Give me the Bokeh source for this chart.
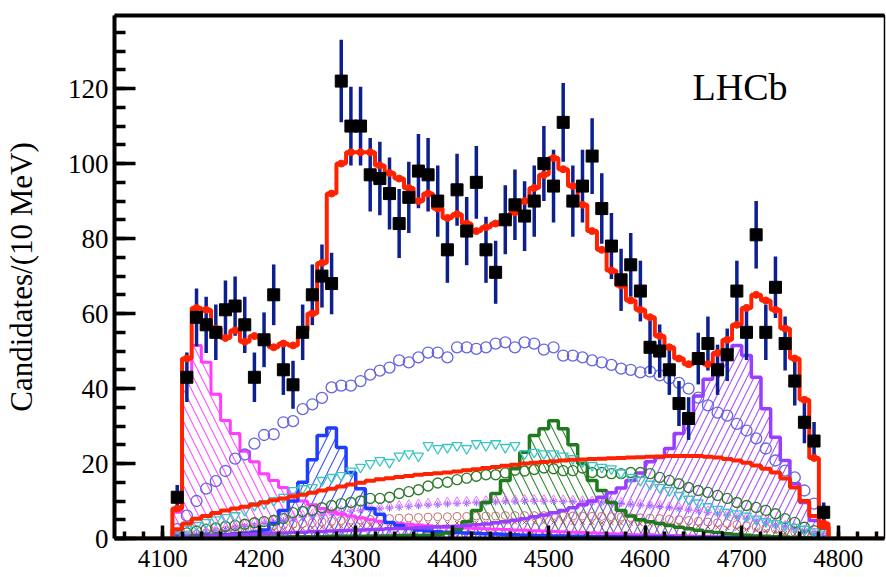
import numpy as np
from bokeh.plotting import figure
from bokeh.models import LinearAxis, FixedTicker, Range1d, Label, SingleIntervalTicker
from bokeh.embed import file_html
from bokeh.resources import INLINE

# ---------------- data (10 MeV bins, centres 4115 ... 4785) ----------------
bin_lo, bin_w, n_bins = 4110, 10, 68
mass = [4115 + 10 * i for i in range(n_bins)]

data = [11, 43, 59, 57, 55, 61, 62, 57, 43, 53,
        65, 45, 41, 55, 65, 70, 68, 122, 110, 110,
        97, 96, 92, 84, 91, 98, 97, 90, 77, 93,
        82, 95, 77, 71, 85, 89, 86, 90, 100, 94,
        111, 90, 94, 102, 88, 78, 69, 73, 66, 51,
        50, 45, 36, 32, 48, 52, 45, 49, 66, 55,
        81, 55, 67, 52, 42, 31, 26, 7]
data_err = [3.3, 6.6, 7.7, 7.5, 7.4, 7.8, 7.9, 7.5, 6.6, 7.3,
            8.1, 6.7, 6.4, 7.4, 8.1, 8.4, 8.2, 11.0, 10.5, 10.5,
            9.8, 9.8, 9.6, 9.2, 9.5, 9.9, 9.8, 9.5, 8.8, 9.6,
            9.1, 9.7, 8.8, 8.4, 9.2, 9.4, 9.3, 9.5, 10.0, 9.7,
            10.5, 9.5, 9.7, 10.1, 9.4, 8.8, 8.3, 8.5, 8.1, 7.1,
            7.1, 6.7, 6.0, 5.7, 6.9, 7.2, 6.7, 7.0, 8.1, 7.4,
            9.0, 7.4, 8.2, 7.2, 6.5, 5.6, 5.1, 2.6]

total_fit = [8, 48, 61.5, 61, 56, 53.5, 55.5, 52.5, 54, 53,
             51, 52, 51.5, 55.5, 60, 73.5, 92, 100, 103, 103,
             103, 99.5, 97.5, 96, 93.5, 90, 92, 88, 85.5, 86.5,
             84, 82, 83, 84, 85, 87, 90, 93.5, 97, 101.5,
             98.5, 94, 89, 82, 77, 71.5, 67.5, 63.5, 61, 59,
             54, 51, 48, 46.5, 47.5, 46.5, 49.5, 53, 57, 61.5,
             65, 63.5, 61, 56, 48, 37, 21.5, 4]

magenta_hist = [7, 43, 51.5, 47, 38.5, 31.5, 28, 23.3, 20.5, 17.3,
                15.5, 13.6, 11.8, 10, 9, 8, 7.2, 6.5, 6, 5.5,
                5.0, 4.6, 4.3, 4.0, 3.8, 3.6, 3.4, 3.2, 3.0, 2.9,
                2.8, 2.7, 2.6, 2.5, 2.4, 2.3, 2.2, 2.1, 2.0, 1.9,
                1.8, 1.7, 1.6, 1.5, 1.4, 1.3, 1.2, 1.1, 1.0, 1.0,
                0.9, 0.8, 0.8, 0.7, 0.6, 0.6, 0.5, 0.5, 0.4, 0.4,
                0.3, 0.3, 0.2, 0.2, 0.1, 0.1, 0.1, 0.1]

blue_hist = [0.5, 0.6, 0.7, 0.8, 0.9, 1.0, 1.2, 1.4, 1.7, 2.3,
             4.0, 7.5, 10, 15, 21, 27.5, 29.5, 24.3, 17.6, 13.3,
             8, 6.5, 4.3, 3.5, 2.7, 2.3, 2.0, 1.8, 1.7, 1.6,
             1.5, 1.4, 1.3, 1.2, 1.1, 1.0, 0.9, 0.8, 0.8, 0.7,
             0.7, 0.6, 0.6, 0.5, 0.5, 0.5, 0.5, 0.4, 0.4, 0.4,
             0.4, 0.4, 0.3, 0.3, 0.3, 0.3, 0.3, 0.3, 0.3, 0.2,
             0.2, 0.2, 0.2, 0.2, 0.2, 0.2, 0.2, 0.2]

green_hist = [0.2, 0.2, 0.2, 0.3, 0.3, 0.3, 0.3, 0.3, 0.4, 0.4,
              0.4, 0.4, 0.5, 0.5, 0.5, 0.5, 0.6, 0.6, 0.6, 0.6,
              0.7, 0.7, 0.7, 0.8, 0.8, 0.8, 0.9, 1.0, 1.5, 2.5,
              4.5, 7.5, 9.6, 12, 15.5, 18.6, 23, 27.5, 29.3, 31.4,
              29.3, 25, 20, 15.5, 12.8, 9.6, 7.5, 6.0, 5.0, 4.5,
              4.0, 3.5, 3.0, 2.6, 2.2, 1.9, 1.6, 1.3, 1.1, 0.9,
              0.7, 0.6, 0.5, 0.4, 0.3, 0.2, 0.1, 0.1]

purple_hist = [0.3, 0.5, 0.6, 0.7, 0.8, 0.9, 1.0, 1.1, 1.2, 1.3,
               1.4, 1.5, 1.6, 1.7, 1.8, 1.9, 2.0, 2.1, 2.2, 2.3,
               2.4, 2.5, 2.6, 2.7, 2.8, 2.9, 3.0, 3.1, 3.2, 3.3,
               3.5, 3.7, 3.9, 4.2, 4.5, 4.9, 5.3, 5.8, 6.3, 6.9,
               7.5, 8.2, 9.0, 10.0, 11.0, 12.2, 13.5, 15.5, 17.5, 20.5,
               21.6, 24.0, 28.0, 33.0, 38.0, 42.5, 46.0, 50.0, 51.5, 48.8,
               43.0, 34.6, 27.0, 20.8, 14.6, 9.6, 4.8, 2.7]

red_comp = [2.5, 4.0, 5.3, 6.0, 6.8, 7.5, 8.0, 8.5, 9.0, 9.6,
            10.2, 10.7, 11.2, 11.7, 12.2, 12.8, 13.3, 13.9, 14.4, 14.9,
            15.4, 15.8, 16.1, 16.4, 16.7, 17.0, 17.2, 17.4, 17.6, 17.9,
            18.2, 18.5, 18.8, 19.1, 19.4, 19.7, 20.0, 20.2, 20.4, 20.6,
            20.8, 21.0, 21.1, 21.2, 21.3, 21.4, 21.5, 21.6, 21.7, 21.8,
            21.9, 22.0, 22.0, 22.0, 22.0, 21.8, 21.6, 21.2, 20.8, 20.2,
            19.5, 18.6, 17.6, 16.0, 13.6, 10.0, 6.0, 3.0]

slate_circles = [2.5, 6.1, 10, 13.3, 15.3, 18, 21.3, 22.4, 25.3, 27.6,
                 27.8, 31, 31.3, 34.5, 35.8, 37.5, 40.3, 40.8, 40.8, 42,
                 43.7, 44.8, 45.6, 47.5, 47, 48.3, 49.6, 49.6, 48.3, 51,
                 51, 50.6, 51, 52, 52.3, 51, 52.3, 52, 50.4, 51,
                 48.8, 48.8, 48.3, 47.5, 47, 46.3, 45.3, 45, 44.3, 44.5,
                 43.5, 42.7, 41.5, 40, 37.6, 35.5, 33.6, 32.8, 30.6, 28.8,
                 26.7, 24, 20.8, 18.1, 16.3, 12.8, 9.3, 6.6]

teal_triangles = [1, 2.5, 3.5, 4.3, 5, 5.6, 6.1, 7.5, 8.8, 9.3,
                  10.1, 11, 12.8, 13.3, 13.6, 15.5, 16.3, 16.8, 18, 19,
                  20, 20.8, 20.3, 22, 22.6, 22, 24.8, 24, 24.3, 24.8,
                  24, 25.3, 24.8, 25.3, 24.3, 24.8, 22.6, 23, 22.6, 22.6,
                  22, 21.3, 20.5, 19.5, 19, 18.6, 17.5, 16.3, 15.5, 14.5,
                  13.6, 12.8, 11.5, 10.5, 9.5, 8.5, 7.8, 7, 6.6, 6,
                  5.2, 4.5, 4, 3.5, 3, 2.5, 1.8, 1]

green_circles = [0.5, 1.5, 2.0, 2.5, 2.8, 3.2, 3.5, 3.8, 4.2, 4.5,
                 4.8, 5.3, 6.9, 7.2, 7.5, 8.2, 8.8, 9.3, 9.6, 10,
                 10.7, 10.7, 11, 12, 12.5, 13, 14, 14.8, 15, 15.7,
                 16.1, 16.6, 17, 17, 17.5, 18.2, 18, 18.4, 18.8, 18.6,
                 18.1, 18.1, 18.8, 17.6, 17.6, 17.3, 17.3, 17.6, 17.6, 17.3,
                 16.3, 15.5, 14.6, 13.6, 12.8, 12.3, 11.5, 10.7, 9.6, 8.8,
                 8.3, 7.5, 6.6, 5.3, 4.3, 3.0, 2.1, 1.3]

pink_triangles = [0.5, 1.0, 1.5, 2.0, 2.5, 3.0, 3.5, 4.0, 4.4, 4.8,
                  5.2, 5.6, 6.0, 6.3, 6.6, 6.9, 7.2, 7.5, 7.8, 8.0,
                  8.3, 8.5, 8.7, 8.9, 9.1, 9.3, 9.5, 9.6, 9.8, 9.9,
                  10.0, 10.1, 10.2, 10.3, 10.4, 10.4, 10.5, 10.5, 10.5, 10.4,
                  10.4, 10.3, 10.2, 10.1, 10.0, 9.8, 9.7, 9.5, 9.3, 9.1,
                  8.9, 8.6, 8.4, 8.1, 7.8, 7.5, 7.1, 6.7, 6.3, 5.8,
                  5.3, 4.8, 4.2, 3.6, 3.0, 2.3, 1.6, 0.8]

violet_stars = [0.3, 0.8, 1.2, 1.6, 2.0, 2.4, 2.8, 3.2, 3.6, 4.0,
                4.4, 4.8, 5.2, 5.6, 6.0, 6.3, 6.6, 6.9, 7.2, 7.4,
                7.7, 7.9, 8.1, 8.3, 8.5, 8.7, 8.9, 9.0, 9.2, 9.3,
                9.4, 9.5, 9.6, 9.7, 9.8, 9.8, 9.9, 9.9, 9.9, 9.9,
                9.8, 9.8, 9.7, 9.6, 9.5, 9.4, 9.3, 9.1, 8.9, 8.7,
                8.5, 8.2, 7.9, 7.6, 7.3, 6.9, 6.5, 6.1, 5.7, 5.2,
                4.7, 4.2, 3.7, 3.1, 2.5, 1.9, 1.3, 0.6]

rose_circles = [0.3, 0.8, 1.2, 1.5, 1.8, 2.1, 2.4, 2.7, 3.0, 3.2,
                3.4, 3.6, 3.8, 4.0, 4.2, 4.4, 4.6, 4.8, 4.9, 5.0,
                5.1, 5.2, 5.3, 5.4, 5.5, 5.6, 5.7, 5.8, 5.8, 5.9,
                5.9, 6.0, 6.0, 6.0, 6.1, 6.1, 6.1, 6.1, 6.1, 6.1,
                6.0, 6.0, 6.0, 5.9, 5.9, 5.8, 5.7, 5.6, 5.5, 5.4,
                5.3, 5.1, 5.0, 4.8, 4.6, 4.4, 4.2, 4.0, 3.7, 3.4,
                3.1, 2.8, 2.5, 2.1, 1.7, 1.3, 0.9, 0.4]

brown_crosses = [0.2, 0.5, 0.8, 1.0, 1.2, 1.4, 1.6, 1.8, 2.0, 2.1,
                 2.3, 2.4, 2.6, 2.7, 2.8, 3.0, 3.1, 3.2, 3.3, 3.4,
                 3.5, 3.6, 3.7, 3.7, 3.8, 3.9, 3.9, 4.0, 4.0, 4.1,
                 4.1, 4.2, 4.2, 4.2, 4.3, 4.3, 4.3, 4.3, 4.3, 4.3,
                 4.3, 4.2, 4.2, 4.2, 4.1, 4.1, 4.0, 4.0, 3.9, 3.8,
                 3.7, 3.6, 3.5, 3.4, 3.3, 3.1, 3.0, 2.8, 2.6, 2.4,
                 2.2, 2.0, 1.7, 1.5, 1.2, 0.9, 0.6, 0.3]

x_min, x_max = 4050, 4848
y_min, y_max = 0, 139.5

# ---------------- helpers ----------------
edges = [bin_lo + bin_w * i for i in range(n_bins)]
x_hist = [bin_lo] + edges + [bin_lo + bin_w * n_bins]


def hist_y(vals):
    return [0] + list(vals) + [0]


SERIF = "Liberation Serif"

p = figure(width=886, height=577, output_backend="svg", toolbar_location=None,
           x_range=Range1d(x_min, x_max), y_range=Range1d(y_min, y_max),
           min_border_left=113, min_border_right=2, min_border_top=15,
           min_border_bottom=39)
p.xgrid.visible = False
p.ygrid.visible = False
p.outline_line_color = "black"
p.outline_line_width = 1.5
p.background_fill_color = "white"
p.border_fill_color = "white"

# ---------------- axes ----------------
xa = p.xaxis[0]
xa.ticker = SingleIntervalTicker(interval=100, num_minor_ticks=5)
xa.major_tick_in = 13
xa.major_tick_out = 0
xa.minor_tick_in = 7
xa.minor_tick_out = 0
xa.major_tick_line_width = 3.5
xa.minor_tick_line_width = 3.5
xa.axis_line_width = 4
xa.major_label_text_font = SERIF
xa.major_label_text_font_size = "25px"
xa.major_label_text_color = "black"
xa.major_label_standoff = 11

ya = p.yaxis[0]
ya.ticker = SingleIntervalTicker(interval=20, num_minor_ticks=4)
ya.major_tick_in = 21
ya.major_tick_out = 0
ya.minor_tick_in = 11
ya.minor_tick_out = 0
ya.major_tick_line_width = 3.5
ya.minor_tick_line_width = 3.5
ya.axis_line_width = 4
ya.major_label_text_font = SERIF
ya.major_label_text_font_size = "27px"
ya.major_label_text_color = "black"
ya.major_label_standoff = 6
ya.axis_label = "Candidates/(10 MeV)"
ya.axis_label_text_font = SERIF
ya.axis_label_text_font_size = "31px"
ya.axis_label_text_font_style = "normal"
ya.axis_label_text_color = "black"
ya.axis_label_standoff = 26

top_axis = LinearAxis(ticker=FixedTicker(ticks=[]), axis_line_width=4,
                      major_tick_out=0, major_tick_in=0, minor_tick_out=0,
                      minor_tick_in=0, major_label_text_font_size="0px",
                      major_label_standoff=0)
p.add_layout(top_axis, "above")

# ---------------- hatched component histograms ----------------
hatched = [
    (magenta_hist, "#ff3cff", "left_diagonal_line", 16),
    (blue_hist, "#1f3dff", "right_diagonal_line", 18),
    (green_hist, "#1f7a1f", "left_diagonal_line", 18),
    (purple_hist, "#9b3dff", "right_diagonal_line", 14),
]
for vals, col, pat, sc in hatched:
    p.varea_step(x=x_hist, y1=[0] * len(x_hist), y2=hist_y(vals), step_mode="after",
                 fill_color=None, fill_alpha=0, hatch_pattern=pat, hatch_color=col,
                 hatch_scale=sc, hatch_weight=1.1, hatch_alpha=0.9)

# small background components
p.scatter(mass, brown_crosses, marker="x", size=6, line_color="#a0503c", line_width=1)
p.scatter(mass, rose_circles, marker="circle", size=8, fill_color=None,
          line_color="#c07070", line_width=1)
p.scatter(mass, violet_stars, marker="asterisk", size=7, line_color="#6b6bff", line_width=1)
p.scatter(mass, pink_triangles, marker="triangle", size=8, fill_color=None,
          line_color="#ff6cff", line_width=1)

for vals, col, lw in [(magenta_hist, "#ff3cff", 3), (blue_hist, "#1f3dff", 3.5),
                      (green_hist, "#1f7a1f", 3.5), (purple_hist, "#9b3dff", 3.5)]:
    p.step(x_hist, hist_y(vals), mode="after", line_color=col, line_width=lw)

# open-marker components
p.scatter(mass, green_circles, marker="circle", size=10, fill_color=None,
          line_color="#2a7a2a", line_width=1.3)
p.scatter(mass, teal_triangles, marker="inverted_triangle", size=10, fill_color=None,
          line_color="#3cc4c4", line_width=1.3)
p.scatter(mass, slate_circles, marker="circle", size=11, fill_color=None,
          line_color="#6464e0", line_width=1.3)

# red component
p.step(x_hist, hist_y(red_comp), mode="after", line_color="#ff2200", line_width=4)

# ---------------- data ----------------
lo = [d - e for d, e in zip(data, data_err)]
hi = [d + e for d, e in zip(data, data_err)]
p.segment(x0=mass, y0=lo, x1=mass, y1=hi, line_color="#0c1f8f", line_width=3.5)

# total fit
p.step([x_min] + x_hist + [x_max], [0] + hist_y(total_fit) + [0], mode="after",
       line_color="#ff2200", line_width=4)
p.scatter(mass, total_fit, marker="circle", size=7, fill_color="#ff2200",
          line_color="#ff2200")

p.scatter(mass, data, marker="square", size=12, fill_color="black", line_color="black")

p.add_layout(Label(x=4649, y=120.5, text="LHCb", text_font=SERIF,
                   text_font_size="38px", text_color="black",
                   text_baseline="alphabetic"))

open("out.html", "w").write(file_html(p, INLINE))
